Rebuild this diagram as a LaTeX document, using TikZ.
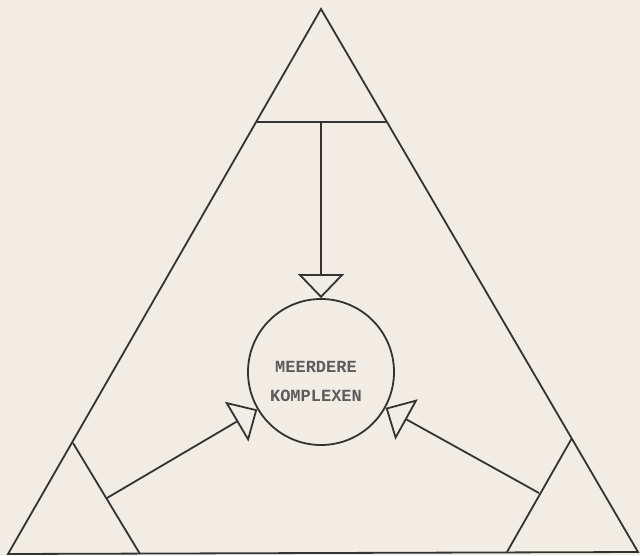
\documentclass[tikz,border=0pt]{standalone}
\usepackage{fontspec}
\setmonofont{Liberation Mono}
\usetikzlibrary{arrows.meta}
\definecolor{paper}{HTML}{F1EDE4}
\definecolor{ink}{HTML}{333333}
\begin{document}
\begin{tikzpicture}[x=1pt,y=-1pt,
  edge/.style={draw=ink,line width=1.8pt,line join=miter},
  openarrow/.style={edge,-{Triangle[open,length=24pt,width=46pt,line width=1.8pt]}},
  hub/.style={circle,draw=ink,line width=1.8pt,minimum size=146pt,inner sep=0pt},
  label/.style={font=\ttfamily\bfseries\fontsize{17}{29}\selectfont,text=ink!80,align=center}]
  \fill[paper] (0,0) rectangle (640,555);
  \useasboundingbox (0,0) rectangle (640,555);
  % main triangle
  \coordinate (A) at (321,9);
  \coordinate (L) at (8,554);
  \coordinate (R) at (638,552);
  \draw[edge] (A) -- (L) -- (R) -- cycle;
  % corner cuts
  \coordinate (t1) at (257,122);
  \coordinate (t2) at (387,122);
  \coordinate (tm) at (321,122);
  \draw[edge] (t1) -- (t2);
  \coordinate (l1) at (73,443);
  \coordinate (l2) at (140,554);
  \coordinate (lm) at (107,498);
  \draw[edge] (l1) -- (l2);
  \coordinate (r1) at (572,438);
  \coordinate (r2) at (507,552);
  \coordinate (rm) at (539,493);
  \draw[edge] (r1) -- (r2);
  % hub
  \node[hub] (c) at (321,372) {};
  \node[label] (t) at (316,381) {MEERDERE\\KOMPLEXEN};
  % arrows
  \draw[openarrow] (tm) -- (c);
  \draw[openarrow] (lm) -- (c);
  \draw[openarrow] (rm) -- (c);
\end{tikzpicture}
\end{document}
